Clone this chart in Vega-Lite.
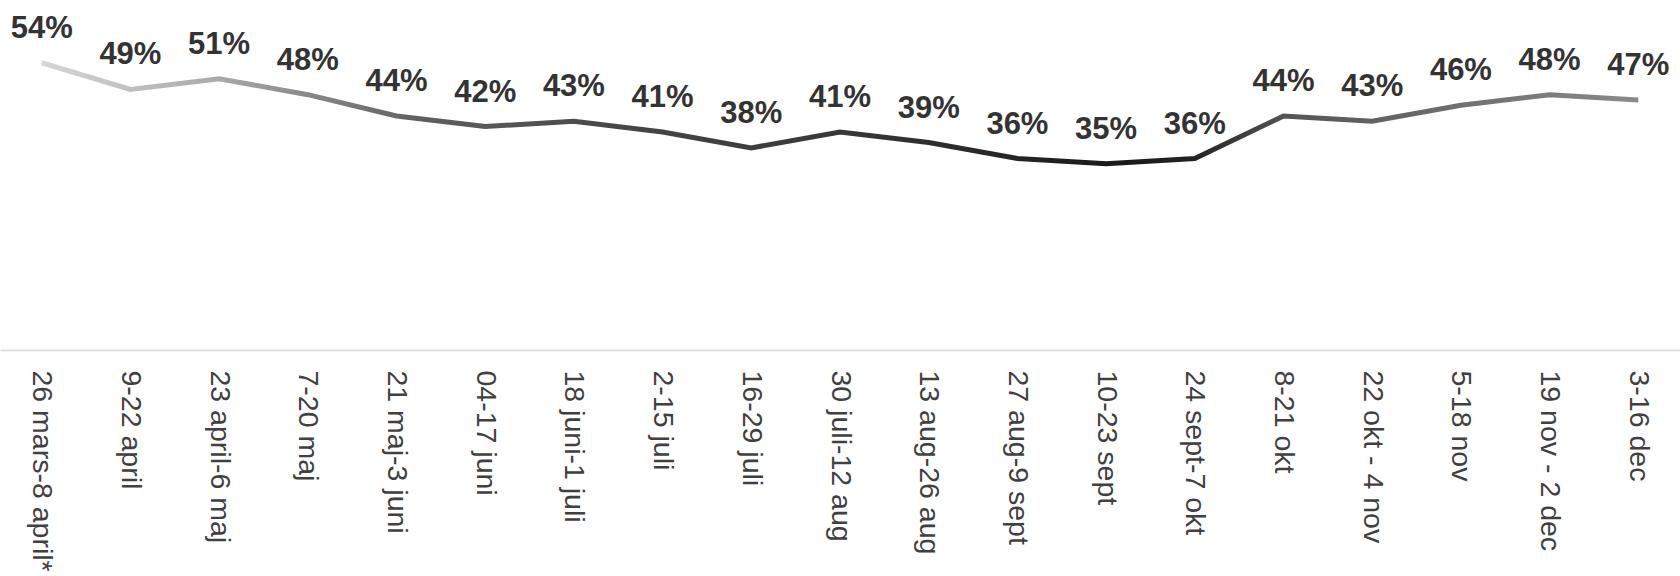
{
  "$schema": "https://vega.github.io/schema/vega-lite/v6.json",
  "width": 1680,
  "height": 350,
  "autosize": "none",
  "padding": {"top": 0, "left": 0, "right": 0, "bottom": 226},
  "background": "white",
  "config": {"view": {"stroke": null}, "font": "Liberation Sans"},
  "data": {
    "values": [
      {"period": "26 mars-8 april*", "value": 0.54},
      {"period": "9-22 april", "value": 0.49},
      {"period": "23 april-6 maj", "value": 0.51},
      {"period": "7-20 maj", "value": 0.48},
      {"period": "21 maj-3 juni", "value": 0.44},
      {"period": "04-17 juni", "value": 0.42},
      {"period": "18 juni-1 juli", "value": 0.43},
      {"period": "2-15 juli", "value": 0.41},
      {"period": "16-29 juli", "value": 0.38},
      {"period": "30 juli-12 aug", "value": 0.41},
      {"period": "13 aug-26 aug", "value": 0.39},
      {"period": "27 aug-9 sept", "value": 0.36},
      {"period": "10-23 sept", "value": 0.35},
      {"period": "24 sept-7 okt", "value": 0.36},
      {"period": "8-21 okt", "value": 0.44},
      {"period": "22 okt - 4 nov", "value": 0.43},
      {"period": "5-18 nov", "value": 0.46},
      {"period": "19 nov - 2 dec", "value": 0.48},
      {"period": "3-16 dec", "value": 0.47}
    ]
  },
  "encoding": {
    "x": {
      "field": "period",
      "type": "ordinal",
      "sort": null,
      "scale": {"type": "point", "padding": 0.47},
      "axis": {
        "title": null,
        "labelAngle": 90,
        "labelAlign": "left",
        "labelBaseline": "middle",
        "ticks": false,
        "domainColor": "#d9d9d9",
        "domainWidth": 1.5,
        "labelPadding": 20,
        "labelFontSize": 28.5,
        "labelColor": "#404040",
        "labelLimit": 0,
        "labelFont": "Liberation Sans"
      }
    },
    "y": {
      "field": "value",
      "type": "quantitative",
      "scale": {"domain": [0, 0.658], "nice": false, "zero": true},
      "axis": null
    }
  },
  "layer": [
    {
      "mark": {
        "type": "line",
        "strokeWidth": 5,
        "color": {
          "gradient": "linear",
          "x1": 0, "y1": 0, "x2": 1, "y2": 0,
          "stops": [
            {"offset": 0, "color": "#d6d6d6"},
            {"offset": 0.11, "color": "#aaaaaa"},
            {"offset": 0.235, "color": "#606060"},
            {"offset": 0.36, "color": "#474747"},
            {"offset": 0.52, "color": "#353535"},
            {"offset": 0.67, "color": "#1a1a1a"},
            {"offset": 0.72, "color": "#222222"},
            {"offset": 0.78, "color": "#555555"},
            {"offset": 1, "color": "#8a8a8a"}
          ]
        }
      }
    },
    {
      "mark": {
        "type": "text",
        "dy": -25,
        "baseline": "alphabetic",
        "align": "center",
        "fontSize": 31,
        "fontWeight": "bold",
        "color": "#333333",
        "font": "Liberation Sans"
      },
      "encoding": {
        "text": {"field": "value", "type": "quantitative", "format": ".0%"}
      }
    }
  ]
}
